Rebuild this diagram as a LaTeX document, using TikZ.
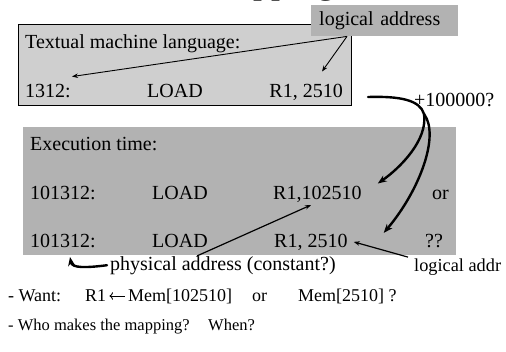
\documentclass[tikz,border=0pt]{standalone}
\usepackage{fontspec}
\setmainfont{Liberation Serif}
\usetikzlibrary{arrows.meta,positioning}

\definecolor{lightbox}{gray}{0.81}
\definecolor{darkbox}{gray}{0.70}

\tikzset{
  txt/.style={font=\fontsize{20bp}{24bp}\selectfont, inner sep=0pt, anchor=base west},
  small/.style={font=\fontsize{16.5bp}{20bp}\selectfont, inner sep=0pt, anchor=base west},
  thin arrow/.style={-{Stealth[length=6bp,width=4.5bp]}, line width=0.9bp},
  bold arrow/.style={-{Stealth[length=9bp,width=7bp]}, line width=2.4bp, line cap=round},
}

\begin{document}
\begin{tikzpicture}[x=1bp, y=-1bp]
        \useasboundingbox (0,0) rectangle (506,351);
        \clip (0,0) rectangle (506,351);

        % Title, only its lower edge shows
        \node (title) [font=\fontsize{36bp}{40bp}\selectfont, inner sep=0pt, anchor=base west] at (205,-7) {Mapping};

        % Boxes
        \node (box1) [draw, line width=0.8bp, fill=lightbox, minimum width=333bp, minimum height=81bp, inner sep=0pt, anchor=north west] at (18,24) {};
        \node (box2) [fill=darkbox, minimum width=433bp, minimum height=128bp, inner sep=0pt, anchor=north west] at (23,127) {};
        \node (lbl) [fill=darkbox, font=\fontsize{20bp}{24bp}\selectfont, text width=131bp, align=left, inner xsep=8bp, inner ysep=6bp, text height=14bp, text depth=5bp, anchor=north west] at (311,5) {logical address};

        % Textual machine language
        \node (tml) [txt] at (25,48) {Textual machine language:};
        \node (n1312) [txt] at (25,97) {1312:};
        \node (load0) [txt] at (147,97) {LOAD};
        \node (r1a) [txt, anchor=base east] at (343,97) {R1, 2510};

        % Execution time
        \node (exec) [txt] at (30,150) {Execution time:};
        \node (r1addr) [txt] at (30,199) {101312:};
        \node (load1) [txt] at (152,199) {LOAD};
        \node (r1b) [txt] at (273,199) {R1,102510};
        \node (or1) [txt] at (432,199) {or};
        \node (r2addr) [txt] at (30,247) {101312:};
        \node (load2) [txt] at (152,247) {LOAD};
        \node (r2b) [txt] at (274,247) {R1, 2510};
        \node (qq) [txt] at (425,247) {??};

        \node (plus) [txt] at (414,106) {+100000?};
        \node (phys) [txt] at (110,270) {physical address (constant?)};
        \node (laddr) [txt, font=\fontsize{18.3bp}{22bp}\selectfont] at (414,271) {logical addr};

        % Questions
        \node (want) [small, font=\fontsize{18bp}{22bp}\selectfont] at (8,301) {- Want:};
        \node (r1w) [small, font=\fontsize{18bp}{22bp}\selectfont] at (85,301) {R1};
        \node (mem1) [small, font=\fontsize{18bp}{22bp}\selectfont] at (128,301) {Mem[102510]};
        \node (or2) [small, font=\fontsize{18bp}{22bp}\selectfont] at (252,301) {or};
        \node (mem2) [small, font=\fontsize{18bp}{22bp}\selectfont] at (298,301) {Mem[2510] ?};
        \node (who) [small] at (8,330) {- Who makes the mapping?};
        \node (when) [small] at (208,330) {When?};

        % Arrows
        \coordinate (la) at ([xshift=36bp]lbl.south west);
        \draw[thin arrow] (la) -- ([shift={(1bp,7bp)}]n1312.north east);
        \draw[thin arrow] (la) -- ([shift={(-21bp,12bp)}]r1a.north east);

        \coordinate (start) at ([shift={(25bp,0bp)}]r1a.base east);
        \draw[line width=2.4bp, line cap=round] (start) .. controls (400,96) and (420,100) .. (424,114) coordinate (fork);
        \draw[bold arrow] (fork) .. controls (428,140) and (400,168) .. ([shift={(16bp,2bp)}]r1b.north east);
        \draw[bold arrow] (fork) .. controls (440,135) and (420,190) .. ([shift={(36bp,9bp)}]r2b.east);

        \draw[thin arrow, line width=1.2bp] ([xshift=87bp]phys.north west) -- ([shift={(38bp,-6bp)}]r1b.base west);
        \draw[bold arrow] ([xshift=-3bp]phys.west) .. controls (85,268) and (72,268) .. ([shift={(40bp,-10bp)}]r2addr.base west);
        \draw[thin arrow, line width=1.2bp] ([shift={(-6bp,1bp)}]laddr.north west) -- ([xshift=6bp]r2b.east);

        \draw[thin arrow, <-] ([shift={(3bp,5bp)}]r1w.base east) -- ([shift={(-3bp,5bp)}]mem1.base west);
\end{tikzpicture}
\end{document}
